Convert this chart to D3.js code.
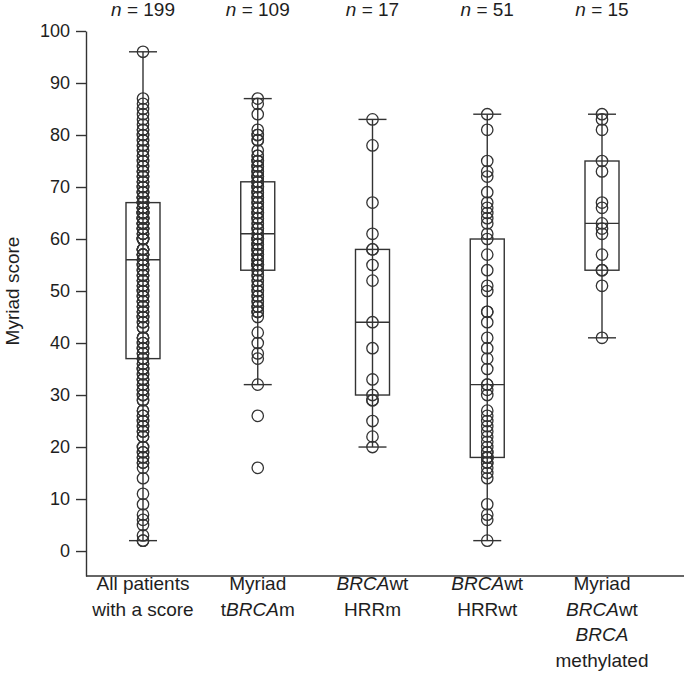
<!DOCTYPE html>
<html>
<head>
<meta charset="utf-8">
<script src="https://cdn.jsdelivr.net/npm/d3@7"></script>
<style>
  html, body { margin: 0; padding: 0; background: #fff; }
  svg { display: block; font-family: "Liberation Sans", Arial, Helvetica, sans-serif; }
</style>
</head>
<body>
<svg id="chart" width="685" height="674"></svg>
<script>
// ---------- data ----------
const groups = ["all", "tbrcam", "hrrm", "hrrwt", "meth"];
const nLabels = ["199", "109", "17", "51", "15"];
const yTicks = [0, 10, 20, 30, 40, 50, 60, 70, 80, 90, 100];

// box statistics: [whisker low, Q1, median, Q3, whisker high]
const boxAll    = [2, 37, 56, 67, 96];
const boxTbrcam = [32, 54, 61, 71, 87];
const boxHrrm   = [20, 30, 44, 58, 83];
const boxHrrwt  = [2, 18, 32, 60, 84];
const boxMeth   = [41, 54, 63, 75, 84];

const scoresAll = [
  96,87,86,85,84,83,82,81,81,80,80,79,79,78,78,77,77,76,76,75,75,74,74,
  73,73,73,72,72,72,71,71,71,70,70,70,69,69,69,69,68,68,68,68,68,
  67,67,67,67,67,67,
  66,66,66,66,66,66,65,65,65,65,65,65,64,64,64,64,64,64,63,63,63,63,63,63,
  62,62,62,62,62,61,61,61,60,60,60,60,60,58,58,58,58,58,57,57,57,57,57,
  56,56,56,
  55,55,55,54,54,54,53,53,53,52,52,52,51,51,51,50,50,50,49,49,49,48,48,48,
  47,47,47,46,46,46,45,45,45,44,44,43,43,41,41,41,40,40,39,39,39,38,38,
  37,37,37,
  36,36,35,35,35,34,34,33,33,33,32,32,31,31,31,30,30,29,29,27,27,26,26,
  25,25,24,24,23,23,22,22,20,20,19,19,18,18,17,17,16,14,11,9,7,6,5,3,2,2
];
const scoresTbrcam = [
  87,86,84,81,80,80,79,79,77,76,76,75,75,75,74,74,74,73,73,73,72,72,72,72,
  71,71,71,71,
  70,70,70,69,69,69,68,68,68,67,67,67,66,66,66,65,65,65,64,64,64,63,63,62,62,62,
  61,61,
  60,60,60,60,59,59,59,59,58,58,58,58,57,57,57,57,56,56,56,56,55,55,55,55,55,
  54,54,
  53,53,52,52,51,51,50,50,49,49,48,48,47,47,47,46,46,46,45,42,40,38,37,32,26,16
];
const scoresHrrm = [83,78,67,61,58,58,55,52,44,39,33,30,29,29,25,22,20];
const scoresHrrwt = [
  84,81,75,73,72,69,67,66,65,64,63,61,60,57,54,51,50,46,46,44,41,39,37,35,32,
  32,31,30,27,26,25,24,23,22,21,20,19,19,18,18,18,18,17,17,16,15,14,9,7,6,2
];
const scoresMeth = [84,83,81,75,73,67,66,63,62,61,57,54,54,51,41];

const boxes = [boxAll, boxTbrcam, boxHrrm, boxHrrwt, boxMeth];
const scores = [scoresAll, scoresTbrcam, scoresHrrm, scoresHrrwt, scoresMeth];

// category labels: each line is a list of [text, italic]
const catLabels = [
  [[["All patients", false]], [["with a score", false]]],
  [[["Myriad", false]], [["t", false], ["BRCA", true], ["m", false]]],
  [[["BRCA", true], ["wt", false]], [["HRRm", false]]],
  [[["BRCA", true], ["wt", false]], [["HRRwt", false]]],
  [[["Myriad", false]], [["BRCA", true], ["wt", false]], [["BRCA", true]], [["methylated", false]]]
];

// ---------- layout ----------
const ink = "#333";
const txt = "#1e1e1e";
const svg = d3.select("#chart");
const axisX = 86, axisBottom = 576, plotRight = 684;

const y = d3.scaleLinear().domain([-4.8, 100]).range([axisBottom, 31]);
const x = d3.scalePoint().domain(groups).range([143, 602]);

// y axis
const yAxis = svg.append("g")
  .attr("transform", `translate(${axisX},0)`)
  .call(d3.axisLeft(y).tickValues(yTicks).tickSize(10).tickSizeOuter(0).tickPadding(6));
yAxis.select(".domain").attr("stroke", ink).attr("stroke-width", 1.4);
yAxis.selectAll(".tick line").attr("stroke", ink).attr("stroke-width", 1.4);
yAxis.selectAll(".tick text").attr("fill", txt).style("font-size", "18px")
  .style("font-family", "'Liberation Sans', Arial, sans-serif");

// bottom axis line
svg.append("line")
  .attr("x1", axisX).attr("x2", plotRight)
  .attr("y1", axisBottom).attr("y2", axisBottom)
  .attr("stroke", ink).attr("stroke-width", 1.4);

// y title
svg.append("text")
  .attr("transform", `translate(19,${y(50)}) rotate(-90)`)
  .attr("text-anchor", "middle")
  .attr("fill", txt)
  .style("font-size", "19px")
  .text("Myriad score");

const boxHalf = 17, capHalf = 14;

groups.forEach((g, i) => {
  const cx = x(g);
  const [lo, q1, med, q3, hi] = boxes[i];
  const gg = svg.append("g");
  // whisker
  gg.append("line").attr("x1", cx).attr("x2", cx).attr("y1", y(hi)).attr("y2", y(lo))
    .attr("stroke", ink).attr("stroke-width", 1.4);
  // caps
  [lo, hi].forEach(v => {
    gg.append("line").attr("x1", cx - capHalf).attr("x2", cx + capHalf)
      .attr("y1", y(v)).attr("y2", y(v)).attr("stroke", ink).attr("stroke-width", 1.4);
  });
  // box
  gg.append("rect").attr("x", cx - boxHalf).attr("width", boxHalf * 2)
    .attr("y", y(q3)).attr("height", y(q1) - y(q3))
    .attr("fill", "none").attr("stroke", ink).attr("stroke-width", 1.4);
  gg.append("line").attr("x1", cx - boxHalf).attr("x2", cx + boxHalf)
    .attr("y1", y(med)).attr("y2", y(med)).attr("stroke", ink).attr("stroke-width", 1.4);
  // points
  gg.selectAll("circle").data(scores[i]).join("circle")
    .attr("cx", cx).attr("cy", d => y(d)).attr("r", 5.7)
    .attr("fill", "none").attr("stroke", ink).attr("stroke-width", 1.3);

  // n label
  const nt = svg.append("text").attr("x", cx).attr("y", 16)
    .attr("text-anchor", "middle").attr("fill", txt).style("font-size", "19px");
  nt.append("tspan").style("font-style", "italic").text("n");
  nt.append("tspan").text(" = " + nLabels[i]);

  // category label
  catLabels[i].forEach((line, li) => {
    const t = svg.append("text").attr("x", cx).attr("y", 590 + li * 25.5)
      .attr("text-anchor", "middle").attr("fill", txt).style("font-size", "19px");
    line.forEach(([s, it]) => {
      t.append("tspan").style("font-style", it ? "italic" : "normal").text(s);
    });
  });
});
</script>
</body>
</html>
